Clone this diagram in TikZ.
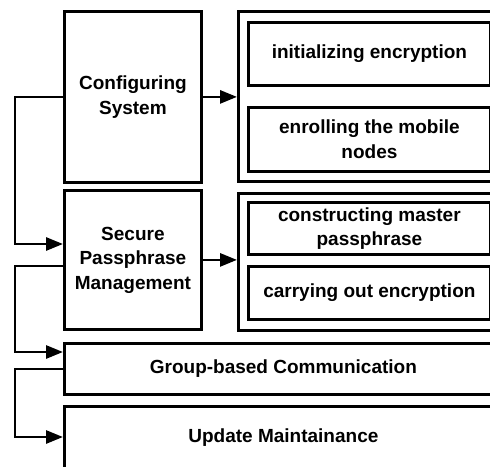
\documentclass[tikz,border=0pt]{standalone}
\usepackage{fontspec}
\setmainfont{Liberation Sans}
\usetikzlibrary{arrows.meta,calc}
\begin{document}
\begin{tikzpicture}[x=1pt,y=-1pt,
  box/.style={draw,line width=2.8pt,anchor=north west,inner sep=0pt,
    align=center,font=\bfseries\fontsize{19}{24.5}\selectfont},
  conn/.style={line width=2.8pt,-{Triangle[length=17pt,width=13pt]}}]
\useasboundingbox (0,0) rectangle (490,466);
\clip (0,0) rectangle (490,466);
\node[box,minimum width=137pt,minimum height=171pt] (cfg) at (63,10) {Configuring\\System};
\node[box,minimum width=263pt,minimum height=170pt] (out1) at (237,10) {};
\node[box,minimum width=242pt,minimum height=63pt] (in1) at (247,21) {initializing encryption};
\node[box,minimum width=242pt,minimum height=64pt] (in2) at (247,106) {enrolling the mobile\\nodes};
\node[box,minimum width=137pt,minimum height=139pt] (sec) at (63,189) {Secure\\Passphrase\\Management};
\node[box,minimum width=263pt,minimum height=137pt] (out2) at (237,192) {};
\node[box,minimum width=242pt,minimum height=52pt] (in3) at (247,201) {constructing master\\passphrase};
\node[box,minimum width=242pt,minimum height=53pt] (in4) at (247,265) {carrying out encryption};
\node[box,minimum width=438pt,minimum height=51pt] (grp) at (63,342) {Group-based Communication};
\node[box,minimum width=438pt,minimum height=62pt] (upd) at (63,405) {Update Maintainance};
\coordinate (c1) at (15,0);
\coordinate (a1) at ($(sec.north west)+(0,55)$);
\coordinate (a2) at ($(sec.north west)+(0,77)$);
\coordinate (a3) at ($(grp.north west)+(0,10)$);
\coordinate (a4) at ($(upd.north west)+(0,32)$);
\draw[conn] (cfg.west) -- (cfg.west -| c1) |- (a1);
\draw[conn] (a2) -- (a2 -| c1) |- (a3);
\draw[conn] (grp.west) -- (grp.west -| c1) |- (a4);
\draw[conn] (cfg.east) -- (cfg.east -| out1.west);
\draw[conn] (sec.east) -- (sec.east -| out2.west);
\end{tikzpicture}
\end{document}
